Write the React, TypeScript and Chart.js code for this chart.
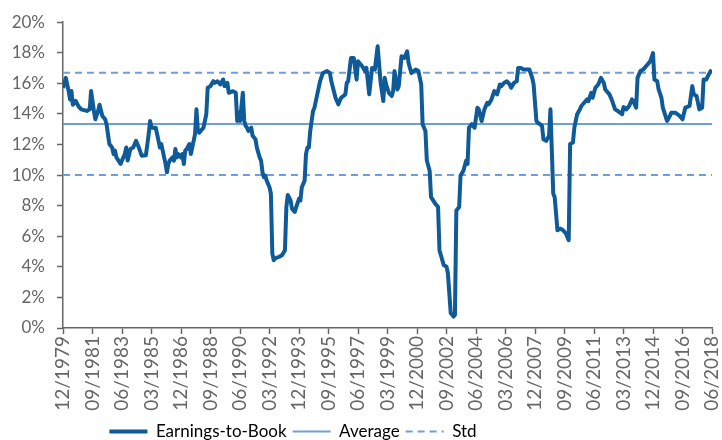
import React, { useEffect, useRef } from 'react';
import { Chart, registerables } from 'chart.js';

Chart.register(...registerables);

// Months elapsed since 12/1979 (0 = 12/1979, 462 = 06/2018)
const MONTHS = [
  0, 2, 4, 5, 6, 7, 9, 11, 13, 17, 19, 20, 22, 23, 25, 26, 28, 30, 31, 32,
  33, 35, 36, 37, 38, 41, 42, 44, 45, 46, 48, 50, 52, 54, 56, 59, 61, 62, 63, 66,
  67, 69, 70, 72, 73, 74, 75, 76, 78, 79, 80, 81, 82, 84, 85, 86, 87, 88, 90, 91,
  92, 94, 95, 96, 97, 98, 100, 102, 103, 105, 107, 108, 110, 112, 114, 115, 117, 118, 121, 123,
  124, 125, 126, 128, 129, 130, 131, 132, 134, 135, 137, 138, 140, 141, 142, 143, 144, 145, 147, 148,
  149, 150, 151, 154, 156, 158, 159, 160, 162, 163, 165, 166, 168, 169, 170, 172, 173, 174, 175, 176,
  178, 179, 181, 183, 185, 188, 190, 191, 194, 196, 198, 201, 202, 203, 205, 207, 209, 210, 213, 215,
  216, 218, 220, 222, 224, 226, 228, 229, 230, 232, 234, 235, 236, 238, 239, 241, 243, 245, 246, 248,
  251, 253, 255, 256, 258, 259, 261, 262, 265, 267, 268, 271, 273, 274, 276, 278, 279, 280, 282, 283,
  285, 287, 288, 289, 291, 293, 295, 296, 298, 300, 302, 303, 305, 307, 309, 311, 312, 314, 316, 318,
  319, 321, 323, 324, 326, 328, 330, 332, 334, 335, 337, 338, 341, 342, 344, 346, 347, 349, 350, 352,
  354, 356, 358, 360, 361, 363, 364, 366, 368, 369, 371, 373, 374, 376, 377, 379, 381, 383, 385, 386,
  389, 391, 393, 395, 398, 399, 401, 403, 405, 406, 408, 409, 411, 413, 415, 418, 420, 421, 423, 424,
  426, 427, 430, 432, 433, 436, 439, 441, 443, 446, 448, 449, 451, 453, 455, 456, 458, 459, 461, 462,
];

// Earnings-to-Book, in percent
const EARNINGS_TO_BOOK = [
  15.7, 16.36, 15.5, 14.95, 15.5, 14.6, 14.85, 14.5, 14.3, 14.2, 14.3, 15.5, 14.2, 13.65, 14.2, 14.6, 13.87, 13.65, 13.33, 12.68,
  12.03, 11.8, 11.38, 11.6, 11.16, 10.73, 10.95, 11.38, 11.8, 10.95, 11.7, 11.8, 12.24, 11.8, 11.27, 11.3, 12.68, 13.54, 13.1, 13.1,
  12.68, 11.8, 12.03, 11.16, 10.73, 10.18, 10.73, 10.95, 11.16, 10.95, 11.7, 11.16, 11.38, 11.16, 11.38, 10.73, 11.6, 11.7, 12.03, 11.38,
  11.8, 12.68, 14.3, 12.89, 12.78, 12.89, 13.1, 13.98, 15.71, 15.82, 16.14, 16.03, 16.14, 15.93, 16.25, 15.82, 16.03, 15.38, 15.49, 15.38,
  13.54, 14.08, 13.54, 15.38, 13.54, 13.22, 13.1, 12.89, 13.1, 12.57, 12.35, 11.8, 11.16, 10.95, 10.18, 9.86, 9.97, 9.64, 9.21, 8.78,
  4.88, 4.44, 4.55, 4.66, 4.77, 5.09, 7.9, 8.7, 8.34, 7.8, 7.6, 7.9, 8.45, 8.34, 9.21, 9.64, 11.4, 11.8, 11.8, 12.89,
  14.19, 14.41, 15.28, 16.14, 16.68, 16.8, 16.68, 16.14, 15.06, 14.63, 15.06, 15.28, 16.03, 16.14, 17.66, 17.66, 16.25, 17.44, 17.12, 16.8,
  17.01, 15.28, 17.01, 16.9, 18.42, 16.14, 14.84, 16.36, 15.93, 15.38, 15.17, 15.49, 16.8, 15.6, 15.82, 17.77, 17.66, 18.1, 17.33, 16.68,
  16.9, 16.8, 15.93, 13.33, 12.89, 10.95, 10.29, 8.56, 8.13, 7.91, 5.09, 4.12, 4.01, 3.58, 0.98, 0.75, 0.86, 7.69, 7.91, 9.97,
  10.29, 10.95, 10.73, 13.1, 13.33, 13.1, 14.41, 14.3, 13.54, 14.3, 14.73, 14.63, 14.95, 15.49, 15.28, 15.93, 15.82, 16.03, 16.14, 15.93,
  15.71, 16.03, 16.14, 17.01, 17.01, 16.9, 16.9, 16.9, 16.36, 15.93, 13.54, 13.43, 13.22, 12.35, 12.24, 12.57, 14.3, 8.78, 8.56, 6.39,
  6.5, 6.39, 6.18, 5.74, 12.03, 12.13, 13.1, 13.98, 14.3, 14.52, 14.73, 14.95, 14.84, 15.38, 15.06, 15.71, 15.93, 16.36, 16.03, 15.6,
  15.28, 14.84, 14.3, 14.19, 13.98, 14.45, 14.3, 14.52, 14.95, 14.84, 14.41, 16.36, 16.8, 16.9, 17.12, 17.44, 17.98, 16.25, 16.14, 15.6,
  15.06, 14.41, 13.54, 13.87, 14.08, 14.08, 13.87, 13.65, 14.41, 14.52, 15.82, 15.28, 15.17, 14.3, 14.41, 16.25, 16.25, 16.47, 16.8, 16.68,
];

const AVERAGE = 13.35;
const STD = 3.35;

const START_YEAR = 1979;
const START_MONTH = 12;
const LAST_MONTH = 462;
const X_TICK_STEP = 21;

const Y_MIN = 0;
const Y_MAX = 20;
const Y_STEP = 2;

const SERIES_LABELS = ['Earnings-to-Book', 'Average', 'Std'];

const monthLabel = (m: number) => {
  const t = START_MONTH - 1 + m;
  const year = START_YEAR + Math.floor(t / 12);
  const mm = (t % 12) + 1;
  return String(mm).padStart(2, '0') + '/' + year;
};

const FONT = 'Lato, "Open Sans", sans-serif';
const TEXT_COLOR = '#666666';
const AXIS_COLOR = '#666666';
const MAIN_COLOR = '#0F5A98';
const LIGHT_COLOR = '#6F9FD6';

const legendShift = {
  id: 'legendShift',
  afterLayout(chart: any) {
    const l = chart.legend;
    if (!l) return;
    l.left -= 68;
    l.right -= 68;
    l.top += 1;
    l.bottom += 1;
  },
};

export default function App() {
  const ref = useRef<HTMLCanvasElement | null>(null);

  useEffect(() => {
    document.body.style.margin = '0';
    if (!ref.current) return;
    const main = MONTHS.map((m, i) => ({ x: m, y: EARNINGS_TO_BOOK[i] }));
    const flat = (v: number) => [
      { x: 0, y: v },
      { x: LAST_MONTH, y: v },
    ];
    const chart = new Chart(ref.current, {
      type: 'line',
      data: {
        datasets: [
          {
            label: SERIES_LABELS[0],
            data: main,
            borderColor: MAIN_COLOR,
            backgroundColor: MAIN_COLOR,
            borderWidth: 4,
            pointRadius: 0,
            tension: 0,
            borderJoinStyle: 'round',
          },
          {
            label: SERIES_LABELS[1],
            data: flat(AVERAGE),
            borderColor: LIGHT_COLOR,
            backgroundColor: LIGHT_COLOR,
            borderWidth: 2,
            pointRadius: 0,
          },
          {
            label: SERIES_LABELS[2],
            data: flat(AVERAGE + STD),
            borderColor: LIGHT_COLOR,
            backgroundColor: LIGHT_COLOR,
            borderWidth: 2,
            borderDash: [7, 5],
            pointRadius: 0,
          },
          {
            label: SERIES_LABELS[2] + ' ',
            data: flat(AVERAGE - STD),
            borderColor: LIGHT_COLOR,
            backgroundColor: LIGHT_COLOR,
            borderWidth: 2,
            borderDash: [7, 5],
            pointRadius: 0,
          },
        ],
      },
      options: {
        animation: false,
        responsive: true,
        maintainAspectRatio: false,
        layout: { padding: { top: 21, right: 0, left: 0, bottom: 0 } },
        plugins: {
          tooltip: { enabled: false },
          legend: {
            position: 'bottom',
            maxHeight: 24,
            labels: {
              usePointStyle: true,
              pointStyle: 'line',
              pointStyleWidth: 38,
              padding: 6,
              color: '#404040',
              font: { family: FONT, size: 17 },
              generateLabels: (c: any) =>
                c.data.datasets.slice(0, 3).map((ds: any, i: number) => ({
                  text: ds.label,
                  fillStyle: ds.borderColor,
                  strokeStyle: ds.borderColor,
                  lineWidth: ds.borderWidth,
                  lineDash: ds.borderDash || [],
                  lineCap: 'butt',
                  pointStyle: 'line',
                  hidden: false,
                  datasetIndex: i,
                })),
            },
          },
        },
        scales: {
          x: {
            type: 'linear',
            min: 0,
            max: LAST_MONTH,
            afterFit: (s: any) => {
              s.height = 88;
              s.paddingRight = 10;
            },
            grid: {
              display: true,
              drawOnChartArea: false,
              drawTicks: true,
              tickLength: 6,
              tickColor: AXIS_COLOR,
              tickWidth: 1.5,
            },
            border: { display: true, color: AXIS_COLOR, width: 1.5 },
            ticks: {
              stepSize: X_TICK_STEP,
              autoSkip: false,
              maxRotation: 90,
              minRotation: 90,
              padding: 2,
              color: TEXT_COLOR,
              font: { family: FONT, size: 19 },
              callback: (v: any) => monthLabel(Number(v)),
            },
          },
          y: {
            min: Y_MIN,
            max: Y_MAX,
            afterFit: (s: any) => {
              s.width = 63;
            },
            grid: {
              display: true,
              drawOnChartArea: false,
              drawTicks: true,
              tickLength: 6,
              tickColor: AXIS_COLOR,
              tickWidth: 1.5,
            },
            border: { display: true, color: AXIS_COLOR, width: 1.5 },
            ticks: {
              stepSize: Y_STEP,
              padding: 12,
              color: TEXT_COLOR,
              font: { family: FONT, size: 17 },
              callback: (v: any) => v + '%',
            },
          },
        },
      },
      plugins: [legendShift],
    });
    return () => chart.destroy();
  }, []);

  return (
    <div style={{ width: 722, height: 440, position: 'relative' }}>
      <canvas ref={ref} />
    </div>
  );
}
